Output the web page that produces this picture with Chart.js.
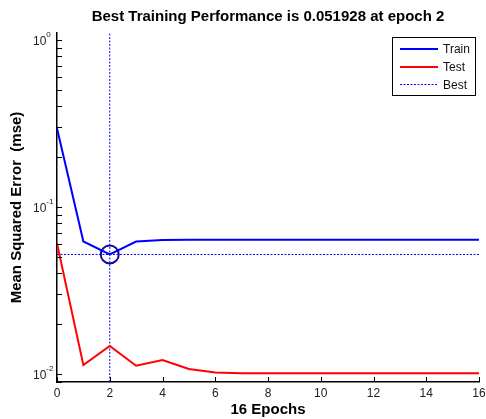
<!DOCTYPE html>
<html>
<head>
<meta charset="utf-8">
<script src="https://cdn.jsdelivr.net/npm/chart.js@4"></script>
<style>
  html, body { margin: 0; padding: 0; background: #fff; }
  canvas { display: block; }
</style>
</head>
<body>
<canvas id="perfChart" width="486" height="419"></canvas>
<script>
// values
const epochs = [0, 1, 2, 3, 4, 5, 6, 7, 8, 9, 10, 11, 12, 13, 14, 15, 16];
const trainPerf = [0.296, 0.0621, 0.051928, 0.0621, 0.0633, 0.0637, 0.0637, 0.0637, 0.0637, 0.0637, 0.0637, 0.0637, 0.0637, 0.0637, 0.0637, 0.0637, 0.0637];
const testPerf = [0.0605, 0.0113, 0.0147, 0.0112, 0.0121, 0.0107, 0.0102, 0.0101, 0.0101, 0.0101, 0.0101, 0.0101, 0.0101, 0.0101, 0.0101, 0.0101, 0.0101];
const bestEpoch = 2;
const bestPerf = 0.051928;
const xTicks = [0, 2, 4, 6, 8, 10, 12, 14, 16];
const yTickValues = [0.01, 0.1, 1];
const yTickExponents = ['-2', '-1', '0'];
const yMin = 0.00895;
const yMax = 1.1;

const FONT = "'Liberation Sans', Arial, Helvetica, sans-serif";

// inward tick marks, superscript y labels and the boxed legend
const axisDecor = {
  id: 'axisDecor',
  afterDraw(chart) {
    const ctx = chart.ctx;
    const a = chart.chartArea;
    const xs = chart.scales.x, ys = chart.scales.y;
    ctx.save();
    ctx.strokeStyle = '#000';
    ctx.lineWidth = 1;
    ctx.beginPath();
    xTicks.forEach(v => {
      const px = Math.round(xs.getPixelForValue(v)) + 0.5;
      ctx.moveTo(px, a.bottom);
      ctx.lineTo(px, a.bottom - 5);
    });
    for (let k = -3; k <= 0; k++) {
      for (let m = 1; m <= 9; m++) {
        const v = m * Math.pow(10, k);
        if (v < yMin || v > yMax) continue;
        const py = Math.round(ys.getPixelForValue(v)) + 0.5;
        ctx.moveTo(a.left, py);
        ctx.lineTo(a.left + 5, py);
      }
    }
    ctx.stroke();

    ctx.fillStyle = '#222';
    ctx.textAlign = 'left';
    ctx.textBaseline = 'alphabetic';
    yTickValues.forEach((v, i) => {
      const py = ys.getPixelForValue(v);
      ctx.font = '12px ' + FONT;
      const w = ctx.measureText('10').width;
      ctx.fillText('10', 33, py + 5);
      ctx.font = '8px ' + FONT;
      ctx.fillText(yTickExponents[i], 33 + w, py - 3);
    });

    // legend
    const box = {x: 392.5, y: 37.5, w: 83, h: 58};
    ctx.fillStyle = '#fff';
    ctx.fillRect(box.x, box.y, box.w, box.h);
    ctx.strokeStyle = '#000';
    ctx.lineWidth = 1;
    ctx.strokeRect(box.x, box.y, box.w, box.h);
    const rows = [49, 67, 84.5];
    chart.data.datasets.filter(d => d.inLegend).forEach((d, i) => {
      ctx.strokeStyle = d.borderColor;
      ctx.lineWidth = d.borderWidth;
      ctx.setLineDash(d.borderDash || []);
      ctx.beginPath();
      ctx.moveTo(400, rows[i]);
      ctx.lineTo(438, rows[i]);
      ctx.stroke();
      ctx.setLineDash([]);
      ctx.fillStyle = '#111';
      ctx.font = '12px ' + FONT;
      ctx.textBaseline = 'middle';
      ctx.fillText(d.label, 443, rows[i] + 1);
    });
    ctx.restore();
  }
};

const ctx = document.getElementById('perfChart').getContext('2d');
const chart = new Chart(ctx, {
  type: 'line',
  data: {
    datasets: [
      {
        label: 'Train', inLegend: true,
        data: epochs.map((e, i) => ({x: e, y: trainPerf[i]})),
        borderColor: '#0000ff', borderWidth: 2, pointRadius: 0, tension: 0
      },
      {
        label: 'Test', inLegend: true,
        data: epochs.map((e, i) => ({x: e, y: testPerf[i]})),
        borderColor: '#ff0000', borderWidth: 2, pointRadius: 0, tension: 0
      },
      {
        label: 'Best', inLegend: true,
        data: [{x: epochs[0], y: bestPerf}, {x: epochs[epochs.length - 1], y: bestPerf}],
        borderColor: '#0000ff', borderWidth: 1, borderDash: [2, 1.5], pointRadius: 0
      },
      {
        label: 'Best epoch',
        data: [{x: bestEpoch, y: yMin}, {x: bestEpoch, y: yMax}],
        borderColor: '#0000ff', borderWidth: 1, borderDash: [2, 1.5], pointRadius: 0
      },
      {
        label: 'Best point',
        data: [{x: bestEpoch, y: bestPerf}],
        showLine: false,
        pointRadius: 9, pointBorderWidth: 2,
        pointBorderColor: '#0a0a9a', pointBackgroundColor: 'rgba(0,0,0,0)'
      }
    ]
  },
  options: {
    responsive: false,
    animation: false,
    devicePixelRatio: 1,
    layout: { autoPadding: false, padding: { left: 0, right: 7, top: 0, bottom: 0 } },
    plugins: {
      legend: { display: false },
      tooltip: { enabled: false },
      title: {
        display: true,
        text: 'Best Training Performance is 0.051928 at epoch 2',
        fullSize: false,
        color: '#000',
        font: { family: FONT, size: 15, weight: 'bold' },
        padding: { top: 8, bottom: 7 }
      }
    },
    scales: {
      x: {
        type: 'linear',
        min: 0, max: 16,
        grid: { display: false, drawTicks: false },
        border: { display: true, color: '#000', width: 1.5 },
        ticks: { stepSize: 2, color: '#222', padding: 4, font: { family: FONT, size: 12 }, maxRotation: 0 },
        title: {
          display: true, text: '16 Epochs', color: '#000',
          font: { family: FONT, size: 15, weight: 'bold' },
          padding: { top: 0, bottom: 0 }
        },
        afterFit: s => { s.height = 37; s.paddingLeft = 0; s.paddingRight = 0; }
      },
      y: {
        type: 'logarithmic',
        min: yMin, max: yMax,
        grid: { display: false, drawTicks: false },
        border: { display: true, color: '#000', width: 1.5 },
        ticks: { display: false },
        title: {
          display: true, text: 'Mean Squared Error  (mse)', color: '#000',
          font: { family: FONT, size: 15, weight: 'bold' },
          padding: { top: 8, bottom: 0 }
        },
        afterFit: s => { s.width = 57; s.paddingTop = 0; s.paddingBottom = 0; }
      }
    }
  },
  plugins: [axisDecor]
});
</script>
</body>
</html>
